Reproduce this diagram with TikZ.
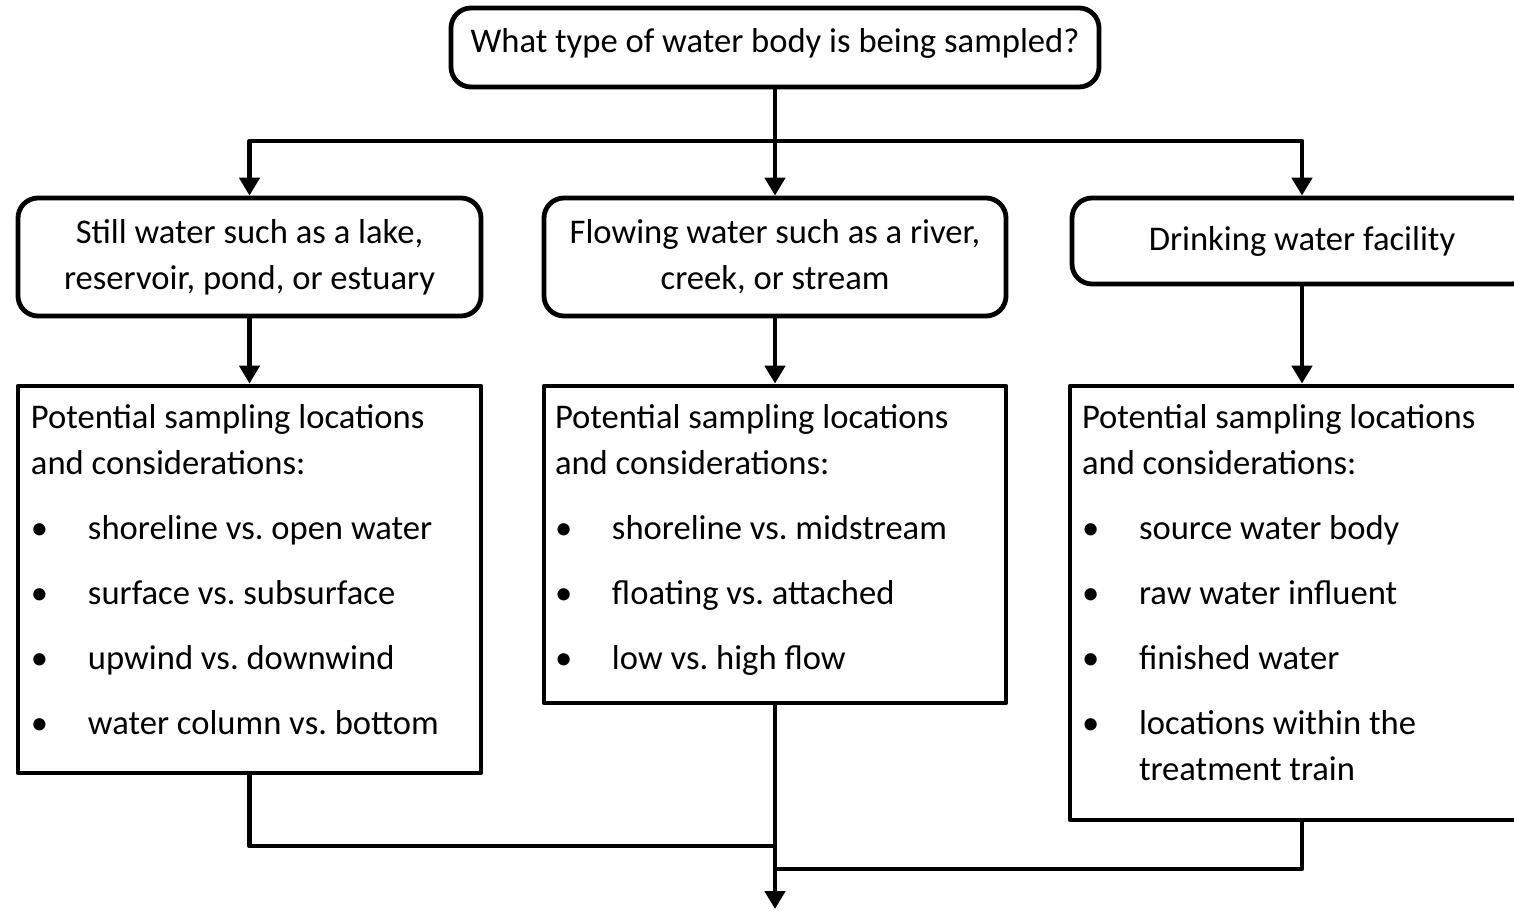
\documentclass[tikz,border=0pt]{standalone}
\usepackage{fontspec}
\setmainfont{Carlito}
\frenchspacing
\usetikzlibrary{arrows.meta}
\newcommand{\bul}{\makebox[28.5pt][l]{\textbullet}}
\newcommand{\ind}{\hspace*{28.5pt}}
\begin{document}
\begin{tikzpicture}[x=0.5pt,y=-0.5pt, line width=2.4pt, line join=round, >={Triangle[length=9pt,width=10pt]},
  font=\fontsize{17.3}{23}\selectfont,
  rbox/.style={draw, rounded corners=10pt, align=center, inner sep=0pt},
  sbox/.style={draw, inner sep=0pt},
  txt/.style={anchor=north west, align=left, inner sep=0pt}]
\clip (0,0) rectangle (1514,910);
% question
\node[rbox, minimum width=324pt, minimum height=39.5pt, text depth=7.5pt] (q) at (775,47.5) {What type of water body is being sampled?};
% water bodies
\node[rbox, minimum width=231.5pt, minimum height=59pt] (still) at (249.5,257) {Still water such as a lake,\\reservoir, pond, or estuary};
\node[rbox, minimum width=231pt, minimum height=59pt] (flow) at (775,257) {Flowing water such as a river,\\creek, or stream};
\node[rbox, minimum width=230pt, minimum height=43pt] (drink) at (1302,241) {Drinking water facility};
% sampling locations
\node[sbox, minimum width=231.5pt, minimum height=193.5pt] (pstill) at (249.5,579.5) {};
\node[sbox, minimum width=231pt, minimum height=158.5pt] (pflow) at (775,544.5) {};
\node[sbox, minimum width=232pt, minimum height=217pt] (pdrink) at (1302,603) {};
\node[txt] (tstill) at ([shift={(13,18)}]pstill.north west) {Potential sampling locations\\and considerations:\\[9.5pt]
  \bul shoreline vs. open water\\[9.5pt]\bul surface vs. subsurface\\[9.5pt]
  \bul upwind vs. downwind\\[9.5pt]\bul water column vs. bottom};
\node[txt] (tflow) at ([shift={(11,18)}]pflow.north west) {Potential sampling locations\\and considerations:\\[9.5pt]
  \bul shoreline vs. midstream\\[9.5pt]\bul floating vs. attached\\[9.5pt]
  \bul low vs. high flow};
\node[txt] (tdrink) at ([shift={(12,18)}]pdrink.north west) {Potential sampling locations\\and considerations:\\[9.5pt]
  \bul source water body\\[9.5pt]\bul raw water influent\\[9.5pt]
  \bul finished water\\[9.5pt]\bul locations within the\\\ind treatment train};
% connectors
\coordinate (bus) at (775,141);
\coordinate (j1) at (775,846);
\coordinate (j2) at (775,869);
\coordinate (out) at (775,909);
\draw[->] (q.south) -- (flow.north);
\draw[->] (bus) -| (still.north);
\draw[->] (bus) -| (drink.north);
\draw[->] (still.south) -- (pstill.north);
\draw[->] (flow.south) -- (pflow.north);
\draw[->] (drink.south) -- (pdrink.north);
\draw (pstill.south) |- (j1);
\draw (pdrink.south) |- (j2);
\draw[->] (pflow.south) -- (out);
\end{tikzpicture}
\end{document}
